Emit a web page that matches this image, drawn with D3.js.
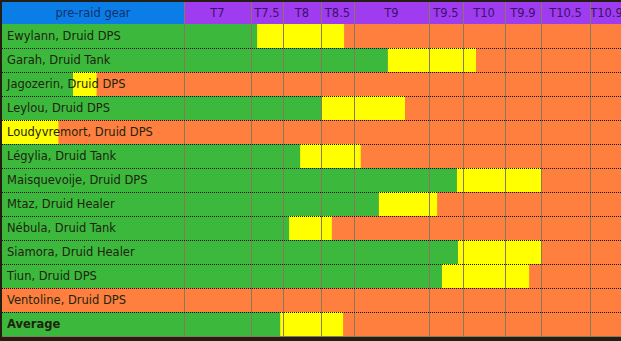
<!DOCTYPE html>
<html><head><meta charset="utf-8">
<script src="https://cdn.jsdelivr.net/npm/d3@7"></script>
<style>
html,body{margin:0;padding:0;background:#241d12;overflow:hidden;}
svg{display:block;}
</style></head>
<body>
<script>
// Tier columns (header), first is the label column
const tiers = ["pre-raid gear","T7","T7.5","T8","T8.5","T9","T9.5","T10","T9.9","T10.5","T10.9"];
// Players
const players = ["Ewylann, Druid DPS","Garah, Druid Tank","Jagozerin, Druid DPS","Leylou, Druid DPS",
  "Loudyvremort, Druid DPS","Légylia, Druid Tank","Maisquevoije, Druid DPS","Mtaz, Druid Healer",
  "Nébula, Druid Tank","Siamora, Druid Healer","Tiun, Druid DPS","Ventoline, Druid DPS","Average"];
// Progress expressed in tier units (0 = start of pre-raid, 1 = T7, 2 = T7.5 ...)
const greenEnd  = [2.19, 5.45, 0.39, 4.00, 0.00, 3.45, 6.82, 5.33, 3.16, 6.85, 6.38, 0.00, 2.91];
const yellowEnd = [4.70, 7.31, 0.52, 5.68, 0.31, 5.09, 9.00, 6.24, 4.33, 9.00, 8.67, 0.00, 4.67];

(function(){
const W = 621, H = 341;
const topY = 2, headerH = 22, rowH = 24;
const bodyTop = topY + headerH;
const colEdges = [2, 184, 251, 283, 321, 354, 429, 463, 505, 541, 590, 623];

const svg = d3.select("body").append("svg").attr("width", W).attr("height", H);

const x = d3.scaleLinear().domain(d3.range(colEdges.length)).range(colEdges);
const y = d3.scaleBand().domain(players).range([bodyTop, bodyTop + rowH * players.length]).padding(0);

const C = {green:"#3cb93c", yellow:"#ffff00", orange:"#ff7f3f", blue:"#0a7ee6", purple:"#a03cf0", grid:"#8a7858"};
const xMax = tiers.length;
const FONT = "DejaVu Sans, Verdana, sans-serif";

// header
const hdr = svg.append("g");
hdr.selectAll("rect").data(tiers).join("rect")
  .attr("x", (d,i) => x(i)).attr("y", topY)
  .attr("width", (d,i) => x(i+1) - x(i)).attr("height", headerH)
  .attr("fill", (d,i) => i === 0 ? C.blue : C.purple);
hdr.selectAll("text").data(tiers).join("text")
  .attr("x", (d,i) => (x(i) + x(i+1)) / 2).attr("y", topY + headerH/2 + 4)
  .attr("text-anchor", "middle")
  .attr("font-family", FONT).attr("font-size", 11.5)
  .attr("fill", (d,i) => i === 0 ? "#13306a" : "#3a1268")
  .text(d => d);

// rows
const rows = svg.append("g").selectAll("g").data(players).join("g")
  .attr("transform", d => `translate(0,${y(d)})`);
rows.append("rect").attr("x", x(0)).attr("y", 0).attr("width", x(xMax) - x(0)).attr("height", y.bandwidth())
  .attr("fill", C.orange);
rows.append("rect").attr("x", (d,i) => x(greenEnd[i])).attr("y", 0)
  .attr("width", (d,i) => x(yellowEnd[i]) - x(greenEnd[i])).attr("height", y.bandwidth())
  .attr("fill", C.yellow);
rows.append("rect").attr("x", x(0)).attr("y", 0)
  .attr("width", (d,i) => x(greenEnd[i]) - x(0)).attr("height", y.bandwidth())
  .attr("fill", C.green);

// vertical grid lines
svg.append("g").selectAll("line").data(d3.range(1, tiers.length)).join("line")
  .attr("x1", d => Math.round(x(d)) + 0.5).attr("x2", d => Math.round(x(d)) + 0.5)
  .attr("y1", topY).attr("y2", y.range()[1])
  .attr("stroke", C.grid).attr("stroke-width", 1);

// dotted row separators
svg.append("g").selectAll("line").data(players.slice(1)).join("line")
  .attr("x1", x(0)).attr("x2", W)
  .attr("y1", d => y(d) + 0.5).attr("y2", d => y(d) + 0.5)
  .attr("stroke", "#111").attr("stroke-width", 1).attr("stroke-dasharray", "1,1");

// bottom line
svg.append("line").attr("x1", x(0)).attr("x2", W)
  .attr("y1", y.range()[1] + 0.5).attr("y2", y.range()[1] + 0.5)
  .attr("stroke", C.grid).attr("stroke-width", 1);

// labels
rows.append("text").attr("x", 7).attr("y", y.bandwidth()/2 + 4)
  .attr("font-family", FONT).attr("font-size", 11.5)
  .attr("font-weight", d => d === "Average" ? "bold" : "normal")
  .attr("fill", "#1c2410")
  .text(d => d);
})();
</script>
</body></html>
